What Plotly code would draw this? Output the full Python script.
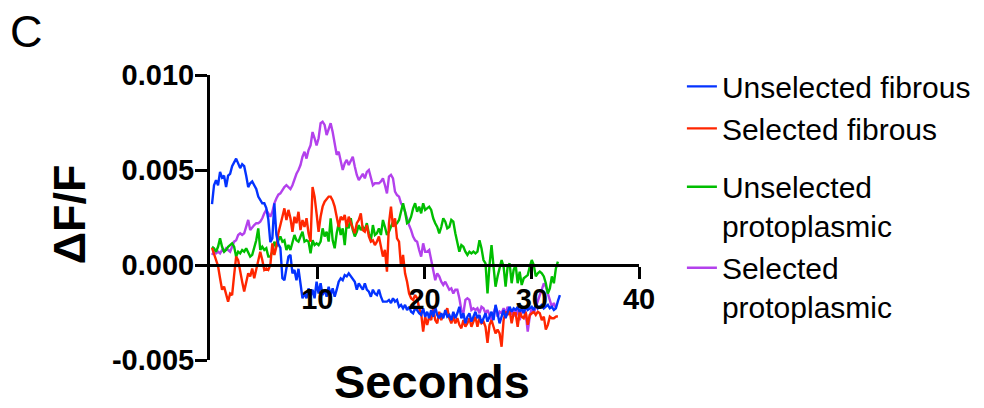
import plotly.graph_objects as go

# ---- data (values in units of 1e-3 dF/F), uniform frame interval ----
FRAME_INTERVAL = 0.1875  # seconds between frames
START_TIME = 0.1875

series_names = ["Unselected fibrous", "Selected fibrous", "Unselected<br>protoplasmic", "Selected<br>protoplasmic"]
series_colors = ["#0433FF", "#FF2600", "#00BE00", "#B341EC"]

unselected_fibrous = [
    3.2, 4.2, 4.47, 4.2, 4.9, 4.6, 4.7, 4.1, 4.7, 4.8, 5.2, 5.4, 5.6, 5.35, 5.1, 5.3, 5.2, 4.7, 4.1, 4.3,
    4.4, 4.2, 4.0, 3.6, 3.4, 3.25, 3.25, 3.0, 2.4, 1.2, 1.4, 3.25, 1.6, 1.1, 0.9,
    -0.7, -0.8, -0.1, 0.44, 0.53, -0.44, -0.26, -0.8, -0.2, -1.14, -1.75, -1.5, -1.75, -1.23, -1.67,
    -1.3, -1.75, -0.88, -1.5, -0.96, -1.58, -1.3, -1.67, -1.14, -1.58, -1.23, -1.67, -1.3, -0.88, -0.7,
    -0.8, -0.53, -0.6, -0.44, -0.6, -0.7, -0.88, -1.3, -0.96, -1.14, -1.3, -0.96, -1.3, -1.4, -1.67,
    -1.3, -1.5, -1.58, -1.3, -1.67, -1.93, -1.93, -1.93, -1.84, -2.0, -1.75, -1.93, -1.84, -2.2, -2.1,
    -2.28, -2.1, -2.37, -2.2, -2.46, -2.54, -2.28, -2.37, -2.54, -2.63, -2.28, -2.72, -2.46, -2.8, -2.37,
    -2.72, -2.2, -2.63, -2.8, -2.54, -2.8, -2.37, -2.72, -2.63, -2.9, -2.46, -2.8, -2.54, -2.2, -2.8,
    -2.54, -3.07, -2.72, -2.54, -2.98, -2.72, -2.46, -2.8, -2.63, -3.07, -2.8, -2.54, -2.98, -2.72, -2.46,
    -2.9, -2.1, -2.54, -3.07, -2.72, -2.37, -2.8, -2.54, -2.2, -2.46, -2.28, -2.37, -2.2, -2.46, -2.28,
    -2.54, -2.2, -2.37, -2.28, -2.2, -2.37, -2.1, -2.28, -2.2, -2.1, -2.28, -2.2, -2.1, -2.28, -2.2,
    -2.37, -2.28, -1.9, -1.58,
]

selected_fibrous = [
    0.9, 0.6, 0.35, -0.05, -0.7, -1.3, -1.14, -1.5, -1.93, -1.5, -1.58, -0.53, 0.44, 0.26, -0.44,
    -0.88, -1.4, -0.96, -0.44, -0.6, -0.18, -0.7, -0.26, 0.26, 0.7, 0.26, -0.26, -0.18, -0.26, 0.0,
    1.14, 0.53, 0.96, 1.67, 2.2, 2.54, 2.98, 2.37, 2.9, 2.46, 1.75, 2.54, 2.2, 2.8, 1.84, 2.37, 2.0,
    2.46, 1.67, 1.23, 4.1, 3.6, 2.7, 1.75, 2.54, 3.07, 3.33, 3.5, 3.6, 3.6, 3.4, 3.07, 2.54, 2.0,
    2.54, 2.37, 2.63, 2.0, 2.54, 2.2, 1.93, 1.67, 2.2, 2.37, 2.72, 1.84, 1.75, 2.1, 1.5, 1.23, 1.3,
    1.05, 1.23, 1.5, 1.05, 0.44, 0.8, -0.35, 2.2, 3.07, 2.0, 2.46, 1.4, 1.23, -0.1, 0.53, -0.44,
    -0.88, -1.5, -1.75, -1.84, -1.58, -1.75, -2.28, -2.54, -3.5, -2.72, -3.15, -2.72, -2.9, -2.28,
    -2.9, -3.07, -2.46, -2.9, -2.63, -2.54, -2.28, -2.8, -3.07, -2.72, -3.07, -2.8, -3.15, -3.33,
    -2.9, -3.25, -3.07, -2.8, -3.25, -2.98, -2.72, -3.25, -2.8, -3.07, -2.98, -3.25, -4.1, -3.15,
    -2.9, -3.25, -3.6, -3.4, -3.6, -4.3, -2.9, -2.46, -2.63, -2.37, -3.07, -2.54, -2.54, -3.25,
    -2.46, -2.72, -2.8, -2.46, -3.15, -2.63, -2.54, -2.46, -2.63, -2.46, -2.54, -2.9, -2.72, -3.4,
    -3.15, -2.72, -2.8, -2.8, -2.72, -2.7,
]

unselected_protoplasmic = [
    0.96, 0.88, 0.7, 0.96, 1.4, 0.96, 0.7, 0.79, 0.96, 1.05, 1.14, 0.96, 0.44, 0.7, 0.61, 0.79, 0.7,
    0.88, 0.61, 0.44, 0.53, 0.96, 1.3, 1.93, 0.79, 0.96, 0.79, 0.88, 0.44, 0.44, 0.7, 1.23, 0.96,
    1.3, 1.5, 1.23, 1.3, 0.79, 1.05, 0.79, 1.23, 1.58, 1.3, 1.23, 1.5, 1.75, 1.23, 1.3, 1.23, 0.61,
    1.3, 1.05, 1.14, 1.05, 1.23, 1.93, 1.5, 1.75, 1.23, 2.46, 1.3, 0.88, 1.67, 2.2, 1.58, 1.93, 1.05,
    2.2, 1.93, 2.46, 1.84, 1.5, 1.75, 2.1, 1.84, 2.0, 1.84, 2.2, 1.67, 1.3, 2.1, 1.58, 1.67, 1.93,
    1.58, 2.37, 2.0, 1.58, 1.75, 2.0, 2.28, 2.1, 2.2, 2.37, 2.9, 3.25, 2.8, 2.2, 2.28, 2.54, 2.98,
    3.25, 2.8, 3.07, 2.72, 3.25, 2.9, 2.98, 3.07, 2.9, 2.46, 2.2, 2.0, 1.67, 2.0, 2.46, 2.28, 1.93,
    2.0, 2.37, 2.28, 1.67, 1.23, 0.7, 1.05, 0.96, 0.7, 0.53, 0.7, 0.61, 0.7, 0.61, 0.7, 1.3, 0.88,
    0.26, 0.09, -1.5, 0.0, 1.05, -0.09, -1.14, -0.6, -0.09, 0.26, -0.09, -1.14, -0.09, 0.09, -0.96,
    -0.26, 0.0, -0.96, -0.35, -1.05, -0.7, -0.6, -0.53, -0.09, 0.26, 0.0, -0.6, -0.44, -0.35, -0.44,
    -0.6, -0.96, -1.5, -1.23, -0.6, -0.96, -0.18, 0.18,
]

selected_protoplasmic = [
    0.53, 0.7, 0.61, 0.7, 0.61, 0.79, 0.7, 0.88, 0.79, 0.7, 0.96, 1.23, 1.3, 1.58, 1.67, 1.58, 1.67,
    2.0, 2.37, 1.84, 2.0, 2.1, 2.2, 2.2, 2.28, 2.46, 2.72, 2.9, 2.72, 2.54, 2.8, 3.25, 3.5, 3.7, 3.77,
    3.95, 4.1, 4.2, 4.1, 4.0, 4.2, 4.56, 4.8, 5.0, 5.26, 5.7, 5.96, 5.6, 6.05, 6.3, 7.0, 6.67, 6.3,
    6.67, 7.46, 7.54, 7.37, 6.84, 7.2, 7.46, 7.0, 6.4, 5.8, 5.96, 5.53, 5.0, 5.35, 5.53, 5.26, 5.53,
    5.7, 5.18, 4.74, 4.47, 4.65, 4.8, 4.56, 4.9, 5.0, 4.56, 4.2, 4.3, 4.3, 4.3, 4.4, 4.56, 4.2, 3.77,
    4.65, 4.74, 4.56, 3.86, 3.68, 3.6, 3.25, 3.07, 2.8, 2.37, 2.1, 1.84, 1.5, 1.3, 1.23, 0.79, 0.44,
    1.14, 0.7, 0.7, 0.79, 0.26, -0.26, -0.8, -0.44, -0.6, -0.88, -1.05, -0.88, -1.14, -1.3, -1.23,
    -1.5, -1.3, -1.3, -1.75, -2.37, -2.54, -1.84, -1.75, -1.84, -2.37, -2.28, -2.37, -2.28, -2.54,
    -2.2, -2.28, -2.54, -2.37, -2.63, -2.9, -2.54, -2.2, -2.72, -2.46, -2.54, -2.28, -2.54, -2.2,
    -2.46, -2.63, -2.37, -2.72, -2.28, -2.9, -2.46, -2.2, -2.54, -3.5, -2.72, -2.28, -2.54, -2.2,
    -1.84, -1.58, -1.3, -0.96, -1.14, -1.5, -1.84, -2.2, -2.0, -2.28,
]

y_tick_vals = [-0.005, 0.0, 0.005, 0.010]
y_tick_text = ["-0.005", "0.000", "0.005", "0.010"]
x_tick_vals = [10, 20, 30, 40]
x_tick_text = ["10", "20", "30", "40"]

FONT = "Liberation Sans, Arial, Helvetica, sans-serif"

all_series = [unselected_fibrous, selected_fibrous, unselected_protoplasmic, selected_protoplasmic]
legend_ids = ["legend", "legend", "legend2", "legend2"]
ranks = [1, 2, 3, 4]

fig = go.Figure()
# draw purple first so blue ends on top
for idx in [3, 2, 1, 0]:
    vals = all_series[idx]
    t = [START_TIME + i * FRAME_INTERVAL for i in range(len(vals))]
    fig.add_trace(go.Scatter(
        x=t, y=[v / 1000.0 for v in vals], mode="lines",
        name=series_names[idx],
        line=dict(color=series_colors[idx], width=2.4),
        legend=legend_ids[idx], legendrank=ranks[idx],
    ))

legend_common = dict(xref="container", yref="container", xanchor="left", yanchor="top",
                     font=dict(size=30, family=FONT, color="black"),
                     itemwidth=30, valign="top", bgcolor="rgba(0,0,0,0)", tracegroupgap=0)

fig.update_layout(
    width=984, height=408,
    margin=dict(l=210, r=345, t=75, b=48, autoexpand=False),
    paper_bgcolor="white", plot_bgcolor="white",
    font=dict(family=FONT, color="black"),
    showlegend=True,
    legend=dict(x=0.693, y=0.852, **legend_common),
    legend2=dict(x=0.693, y=0.606, **legend_common),
    xaxis=dict(range=[0, 40], anchor="free", position=1/3,
               showline=True, linewidth=3, linecolor="black",
               ticks="outside", ticklen=12, tickwidth=3, tickcolor="black",
               tickvals=x_tick_vals, ticktext=x_tick_text, ticklabelstandoff=-5,
               tickfont=dict(size=29, family=FONT, color="black", weight="bold"),
               showgrid=False, zeroline=False),
    yaxis=dict(range=[-0.005, 0.010],
               showline=True, linewidth=3, linecolor="black",
               ticks="outside", ticklen=12, tickwidth=3, tickcolor="black",
               tickvals=y_tick_vals, ticktext=y_tick_text, ticklabelstandoff=-5,
               tickfont=dict(size=29, family=FONT, color="black", weight="bold"),
               showgrid=False, zeroline=False),
    annotations=[
        dict(text="<b>Seconds</b>", x=0.518, y=-0.074, xref="paper", yref="paper",
             xanchor="center", yanchor="middle", showarrow=False,
             font=dict(size=47, family=FONT, color="black")),
        dict(text="<b>ΔF/F</b>", x=-0.328, y=0.512, xref="paper", yref="paper",
             xanchor="center", yanchor="middle", showarrow=False, textangle=-90,
             font=dict(size=45, family=FONT, color="black")),
        dict(text="C", x=-0.4266, y=1.154, xref="paper", yref="paper",
             xanchor="center", yanchor="middle", showarrow=False,
             font=dict(size=45, family=FONT, color="black")),
    ],
)

fig.write_html("out.html")
